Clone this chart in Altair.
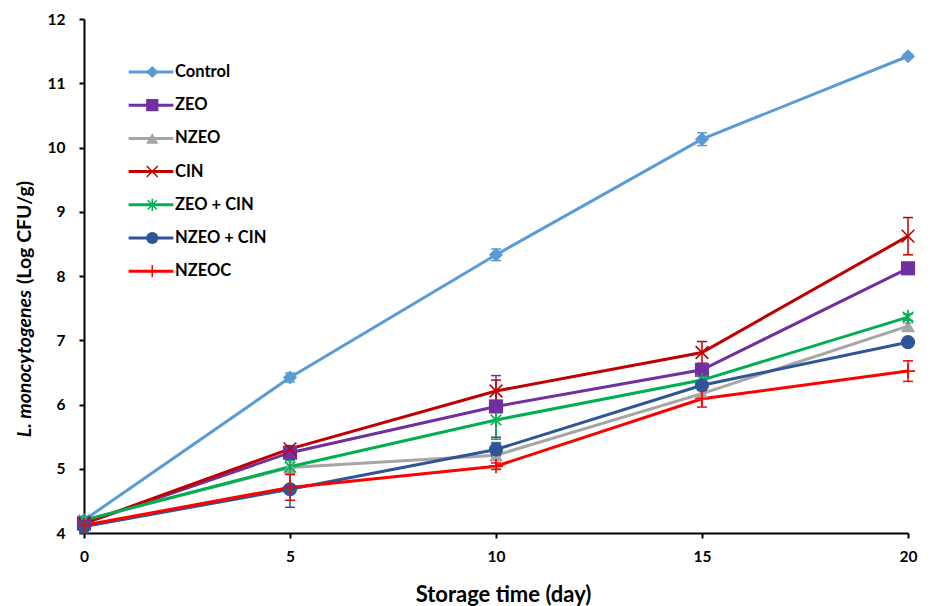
import altair as alt
import pandas as pd

days = [0, 5, 10, 15, 20]
series = ["Control", "ZEO", "NZEO", "CIN", "ZEO + CIN", "NZEO + CIN", "NZEOC"]
colors = ["#5B9BD5", "#7030A0", "#A5A5A5", "#C00000", "#00B050", "#2F5597", "#FF0000"]

control = [4.20, 6.42, 8.33, 10.13, 11.42]
zeo = [4.15, 5.25, 5.97, 6.54, 8.12]
nzeo = [4.20, 5.02, 5.21, 6.17, 7.22]
cin = [4.15, 5.31, 6.21, 6.81, 8.62]
zeo_cin = [4.20, 5.03, 5.76, 6.38, 7.36]
nzeo_cin = [4.10, 4.68, 5.30, 6.30, 6.97]
nzeoc = [4.12, 4.71, 5.04, 6.09, 6.52]

control_err = [0.03, 0.07, 0.09, 0.10, 0.03]
zeo_err = [0.05, 0.10, 0.48, 0.05, 0.05]
nzeo_err = [0.05, 0.08, 0.20, 0.05, 0.05]
cin_err = [0.05, 0.05, 0.17, 0.17, 0.29]
zeo_cin_err = [0.05, 0.10, 0.30, 0.07, 0.05]
nzeo_cin_err = [0.10, 0.28, 0.10, 0.05, 0.03]
nzeoc_err = [0.08, 0.20, 0.05, 0.13, 0.16]

values = [control, zeo, nzeo, cin, zeo_cin, nzeo_cin, nzeoc]
errors = [control_err, zeo_err, nzeo_err, cin_err, zeo_cin_err, nzeo_cin_err, nzeoc_err]

rows = []
for name, vals, errs in zip(series, values, errors):
    for d, v, e in zip(days, vals, errs):
        rows.append({"day": d, "value": v, "lo": v - e, "hi": v + e,
                     "series": name, "series_l": name})
df = pd.DataFrame(rows)

# custom thin symbols (filled polygons in the -1..1 box)
x_path = ("M-0.82,-0.98L0.98,0.82L0.82,0.98L-0.98,-0.82Z"
          "M-0.98,0.82L0.82,-0.98L0.98,-0.82L-0.82,0.98Z")
star_path = ("M-0.67,-0.83L0.83,0.67L0.67,0.83L-0.83,-0.67Z"
             "M-0.83,0.67L0.67,-0.83L0.83,-0.67L-0.67,0.83Z"
             "M0.12,-1L0.12,1L-0.12,1L-0.12,-1Z")
plus_path = "M-1,-0.12H-0.12V-1H0.12V-0.12H1V0.12H0.12V1H-0.12V0.12H-1Z"
shapes = ["diamond", "square", "triangle-up", x_path, star_path, "circle", plus_path]

FONT = "Lato"

stroke_enc = alt.Stroke(
    "series_l:N", sort=series, scale=alt.Scale(range=colors),
    legend=alt.Legend(
        title=None, orient="none", legendX=43, legendY=43,
        symbolType="stroke", symbolSize=2000, symbolStrokeWidth=3,
        clipHeight=20, rowPadding=13.2, padding=0,
        labelFont=FONT, labelFontSize=16.5, labelFontWeight="bold",
        labelColor="black", labelOffset=0,
    ),
)

shape_legend = alt.Legend(
    title=None, orient="none", legendX=60, legendY=43,
    symbolSize=150, clipHeight=20, rowPadding=13.2, padding=0,
    labelFont=FONT, labelFontSize=16.5, labelExpr="''",
)

base = alt.Chart(df)
x_enc = alt.X("day:Q",
              scale=alt.Scale(domain=[0, 20], nice=False, zero=False, padding=0),
              axis=alt.Axis(values=days, title="Storage time (day)", format="d",
                            titleX=419))
y_enc = alt.Y("value:Q",
              scale=alt.Scale(domain=[4, 12], nice=False, zero=False, padding=0),
              axis=alt.Axis(values=list(range(4, 13)), title=None, format="d",
                            labelPadding=14))

err_rule = base.mark_rule(strokeWidth=1.5).encode(
    x="day:Q", y="lo:Q", y2="hi:Q", stroke=stroke_enc)
cap_lo = base.mark_rule(strokeWidth=1.5, xOffset=-5, x2Offset=5).encode(
    x="day:Q", x2="day:Q", y="lo:Q", stroke=stroke_enc)
cap_hi = base.mark_rule(strokeWidth=1.5, xOffset=-5, x2Offset=5).encode(
    x="day:Q", x2="day:Q", y="hi:Q", stroke=stroke_enc)

lines = base.mark_line(strokeWidth=3).encode(
    x=x_enc, y=y_enc, stroke=stroke_enc, order="day:Q")

points = base.mark_point(filled=True, opacity=1, size=200).encode(
    x="day:Q", y="value:Q",
    color=alt.Color("series:N", scale=alt.Scale(domain=series, range=colors),
                    legend=shape_legend),
    shape=alt.Shape("series:N", scale=alt.Scale(domain=series, range=shapes),
                    legend=shape_legend),
)

title_df = pd.DataFrame({"italic": ["L. monocytogenes"], "normal": ["(Log CFU/g)"]})
t_italic = alt.Chart(title_df).mark_text(
    angle=270, align="right", baseline="middle", font=FONT, fontSize=19.5,
    fontWeight="bold", fontStyle="italic", color="black",
).encode(text="italic:N", x=alt.value(-59), y=alt.value(271))
t_normal = alt.Chart(title_df).mark_text(
    angle=270, align="left", baseline="middle", font=FONT, fontSize=19.5,
    fontWeight="bold", color="black",
).encode(text="normal:N", x=alt.value(-59), y=alt.value(265))

chart = alt.layer(lines, err_rule, cap_lo, cap_hi, points, t_italic, t_normal).properties(
    width=824, height=514,
    autosize=alt.AutoSizeParams(type="none"),
    padding={"left": 76, "top": 11, "right": 15, "bottom": 76},
).configure_view(stroke=None).configure_axis(
    domainColor="black", domainWidth=2, tickColor="black", tickWidth=2, tickSize=5,
    labelFont=FONT, labelFontSize=15.5, labelFontWeight="bold", labelColor="black",
    labelPadding=11, labelFlush=False, grid=False,
    titleFont=FONT, titleFontSize=22, titleFontWeight="bold", titleColor="black",
    titlePadding=20,
)

chart.save("out.html", embed_options={"renderer": "svg", "actions": False})
